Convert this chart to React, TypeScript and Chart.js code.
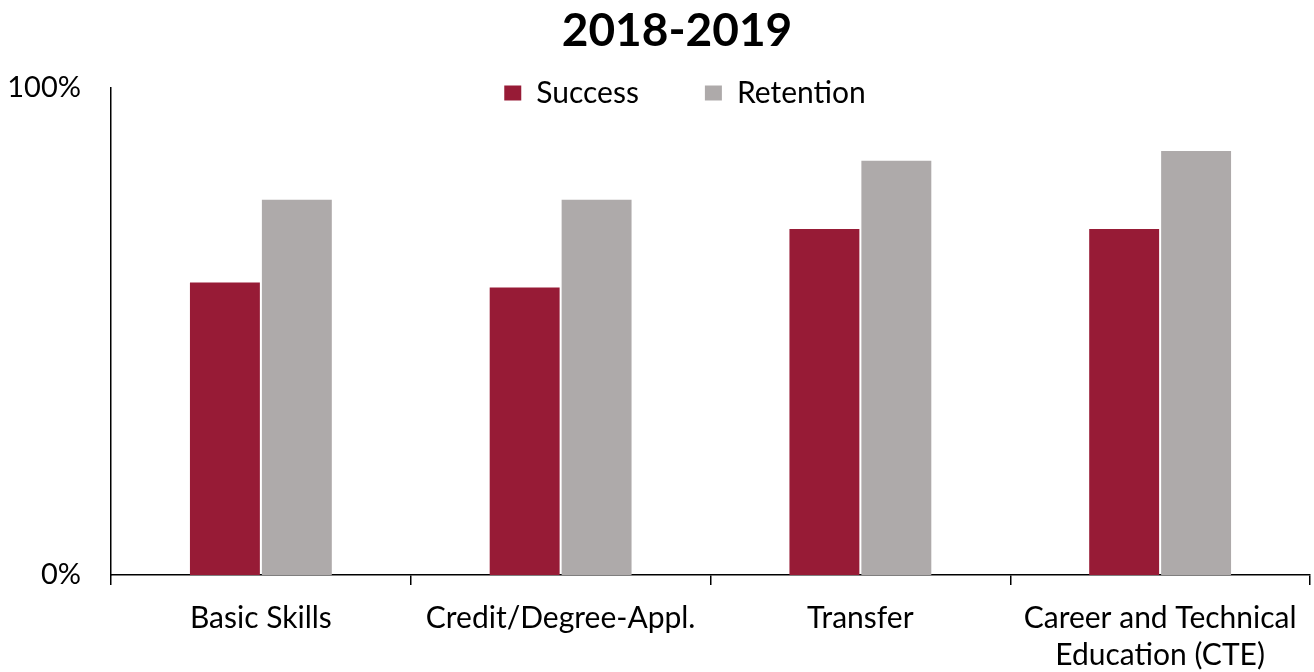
import React, { useEffect, useRef } from "react";
import { Chart, registerables } from "chart.js";

Chart.register(...registerables);

const categories: (string | string[])[] = [
  "Basic Skills",
  "Credit/Degree-Appl.",
  "Transfer",
  ["Career and Technical", "Education (CTE)"],
];
const successValues = [0.6, 0.59, 0.71, 0.71];
const retentionValues = [0.77, 0.77, 0.85, 0.87];
const yTicks = [0, 1];
const titleText = "2018-2019";
const seriesNames = ["Success", "Retention"];

const FONT = "Lato, 'Open Sans', sans-serif";

const layoutFix = {
  id: "layoutFix",
  afterLayout(chart: any) {
    const lg = chart.legend;
    if (lg) {
      const pad = lg.options.labels.padding;
      const dx = 30;
      lg.left += dx;
      lg.right += dx;
      lg.top = 78 - pad;
      lg.height = pad + 60;
      lg.bottom = lg.top + lg.height;
    }
    const t = chart.titleBlock;
    if (t) {
      t.left += 22;
      t.right += 22;
    }
  },
};

export default function App() {
  const ref = useRef<HTMLCanvasElement | null>(null);
  useEffect(() => {
    if (!ref.current) return;
    const chart = new Chart(ref.current, {
      type: "bar",
      data: {
        labels: categories as any,
        datasets: [
          {
            label: seriesNames[0],
            data: successValues,
            backgroundColor: "#971B36",
            categoryPercentage: 0.48,
            barPercentage: 0.972,
          },
          {
            label: seriesNames[1],
            data: retentionValues,
            backgroundColor: "#AEAAAA",
            categoryPercentage: 0.48,
            barPercentage: 0.972,
          },
        ],
      },
      options: {
        animation: false,
        responsive: false,
        maintainAspectRatio: false,
        layout: { padding: { left: 0, right: 4, top: 0, bottom: 0 } },
        plugins: {
          tooltip: { enabled: false },
          title: {
            display: true,
            text: titleText,
            color: "#000",
            font: { family: FONT, size: 46, weight: "bold", lineHeight: 1.2 },
            padding: { top: 3.4, bottom: 28.9 },
          },
          legend: {
            display: true,
            position: "top",
            maxHeight: 0.001,
            labels: {
              color: "#000",
              font: { family: FONT, size: 30 },
              boxWidth: 17,
              boxHeight: 15,
              padding: 66,
            },
          },
        },
        scales: {
          x: {
            grid: {
              display: true,
              drawOnChartArea: false,
              drawTicks: true,
              tickLength: 10,
              color: "#000",
              lineWidth: 1.5,
              offset: true,
            },
            border: { display: true, color: "#000", width: 1.5 },
            ticks: {
              color: "#000",
              font: { family: FONT, size: 30, lineHeight: 1.23 },
              padding: 15,
              maxRotation: 0,
              autoSkip: false,
            },
            afterFit: (s: any) => {
              s.height = 97;
            },
          },
          y: {
            min: 0,
            max: 1,
            afterBuildTicks: (s: any) => {
              s.ticks = yTicks.map((v) => ({ value: v }));
            },
            grid: { display: false, drawTicks: false },
            border: { display: true, color: "#000", width: 1.5 },
            ticks: {
              color: "#000",
              font: { family: FONT, size: 29 },
              padding: 30,
              callback: (v: any) => Math.round(Number(v) * 100) + "%",
            },
            afterFit: (s: any) => {
              s.width = 111;
            },
          },
        },
      },
      plugins: [layoutFix],
    });
    return () => chart.destroy();
  }, []);
  return (
    <div style={{ position: "fixed", left: 0, top: 0, width: 1314, height: 672, background: "#fff" }}>
      <canvas ref={ref} width={1314} height={672} style={{ width: 1314, height: 672, display: "block" }} />
    </div>
  );
}
